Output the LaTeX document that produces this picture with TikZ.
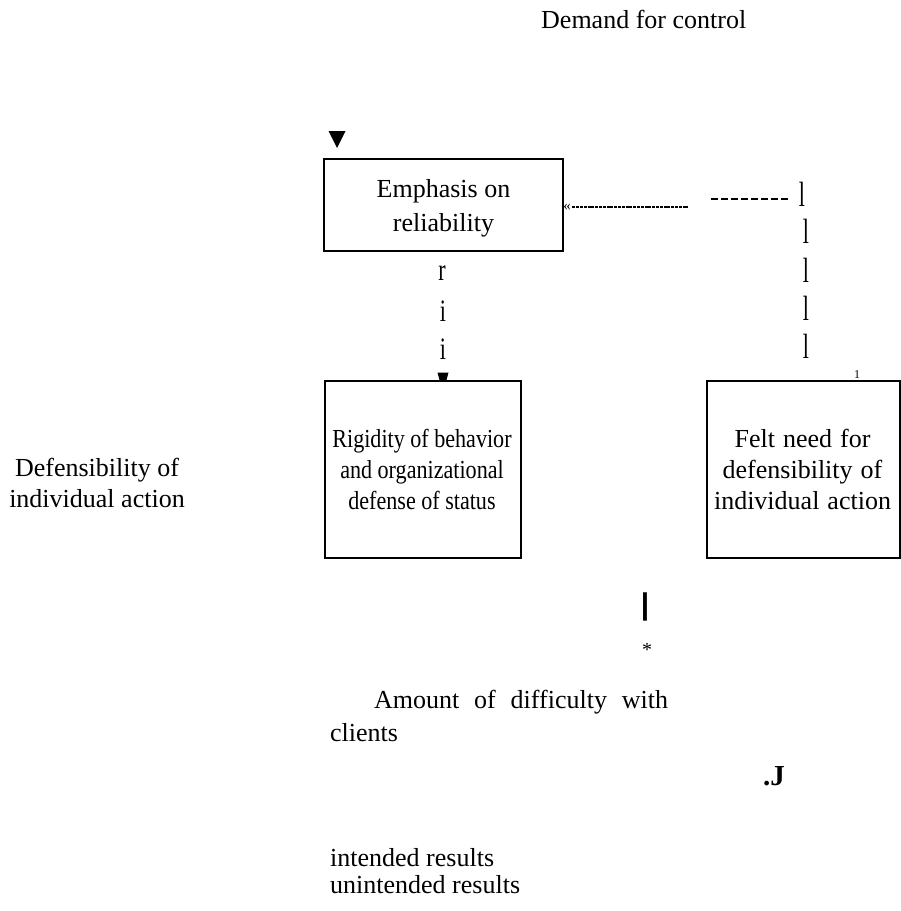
\documentclass[tikz,border=0pt]{standalone}
\usepackage{fontspec}
\usetikzlibrary{calc}
\setmainfont{Liberation Serif}
\newfontfamily\condensedserif{Liberation Serif}[FakeStretch=0.85]
\newfontfamily\sansbold{Liberation Sans}[BoldFont={Liberation Sans Bold}]
\newcommand\feltspacing{\spaceskip=8pt\relax}
\newcommand\amountspacing{\spaceskip=14.8pt\relax}
\begin{document}
\begin{tikzpicture}[x=1pt,y=-1pt,
  txt/.style={font=\fontsize{26}{31}\selectfont, inner sep=0pt, align=center},
  box/.style={draw, line width=2pt, inner sep=0pt, anchor=north west},
  glyph/.style={inner sep=0pt, font=\fontsize{26}{26}\selectfont},
  finedash/.style={line width=2.2pt, dash pattern=on 3pt off 0.8pt},
  longdash/.style={line width=1.5pt, dash pattern=on 7pt off 3pt},
  tip/.style={fill=black, draw=none}]
\useasboundingbox (0,0) rectangle (901,911);

% headline
\node[txt, anchor=base west] (demand) at (541,28) {Demand for control};

% boxes
\node[box, minimum width=239pt, minimum height=92pt] (emph) at (323,158) {};
\node[txt, font=\fontsize{26}{34}\selectfont] (emphT) at ([yshift=-3pt]emph.center) {Emphasis on\\reliability};
\node[box, minimum width=196pt, minimum height=177pt] (rigid) at (324,380) {};
\node[txt, font=\fontsize{26}{31}\condensedserif] (rigidT) at ([xshift=-1pt]rigid.center) {Rigidity of behavior\\and organizational\\defense of status};
\node[box, minimum width=193pt, minimum height=177pt] (felt) at (706,380) {};
\node[txt, font=\fontsize{26}{31}\selectfont\feltspacing] (feltT) at ([xshift=-1pt]felt.center) {Felt need for\\defensibility of\\individual action};

% free labels
\node[txt] (defens) at (97,483) {Defensibility of\\individual action};
\node[txt, anchor=base west, font=\fontsize{26}{31}\selectfont\amountspacing] (amount) at (374,708) {Amount of difficulty with};
\node[txt, anchor=base west] (clients) at (330,741) {clients};
\node[txt, anchor=base west] (intended) at (330,866) {intended results};
\node[txt, anchor=base west] (unintended) at (330,893) {unintended results};

% arrowhead above the reliability box
\coordinate (triTop) at (337,131);
\fill[tip] ([xshift=-8.5pt]triTop) -- ([xshift=8.5pt]triTop) -- ($(triTop)+(0,17)$) -- cycle;

% connector from the feedback column into the reliability box
\node[inner sep=0pt, font=\fontsize{15}{15}\selectfont] (dblarrow) at (567,207) {«};
\coordinate (dashA) at (688,207);
\draw[finedash] ([xshift=1.5pt]dblarrow.east |- dashA) -- (dashA);
\coordinate (dashB) at (711,199);
\coordinate (dashC) at (790,199);
\draw[longdash] (dashB) -- (dashC);

% vertical column of stroke marks on the right
\foreach \i/\xx/\yy in {1/802/194, 2/806/231, 3/806/270, 4/806/308, 5/806/346}
  \node[glyph] (mk\i) at (\xx,\yy) {\scalebox{0.85}[1.35]{l}};
\node[inner sep=0pt, font=\fontsize{12}{12}\selectfont] (mk6) at (857,375) {1};

% vertical column of marks between the two left boxes
\node[glyph] (mr) at (442,273) {\scalebox{0.85}[1.2]{r}};
\node[glyph] (mi1) at (443,311) {\scalebox{0.85}[1.2]{i}};
\node[glyph] (mi2) at (443,349) {\scalebox{0.85}[1.2]{i}};
\fill[tip] (437.5,372.5) -- (448.5,372.5) -- (446.5,380) -- (439.5,380) -- cycle;

% marks below the boxes
\node[inner sep=0pt, font=\fontsize{30}{30}\sansbold\bfseries] (bar) at (645,607) {|};
\node[inner sep=0pt, font=\fontsize{20}{20}\selectfont] (star) at (647,650) {*};
\node[inner sep=0pt, font=\fontsize{29}{29}\selectfont\bfseries, anchor=base] (dotJ) at (774,785) {.J};
\end{tikzpicture}
\end{document}
